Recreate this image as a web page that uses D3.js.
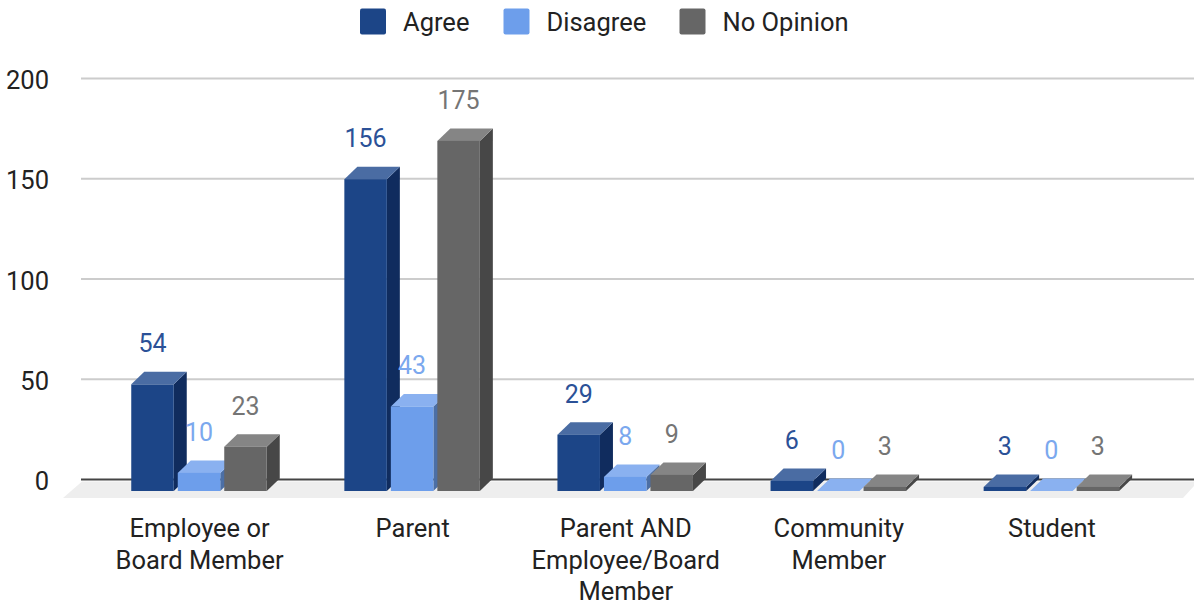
<!DOCTYPE html>
<html><head><meta charset="utf-8">
<script src="https://cdn.jsdelivr.net/npm/d3@7"></script>
<style>html,body{margin:0;padding:0;background:#fff}svg{display:block}text{font-family:Roboto,sans-serif}</style>
</head><body><div id="c"></div>
<script>
const categories = ["Employee or Board Member","Parent","Parent AND Employee/Board Member","Community Member","Student"];
const categoryLines = [["Employee or","Board Member"],["Parent"],["Parent AND","Employee/Board","Member"],["Community","Member"],["Student"]];
const seriesNames = ["Agree","Disagree","No Opinion"];
const agree = [54,156,29,6,3];
const disagree = [10,43,8,0,0];
const noOpinion = [23,175,9,3,3];
const seriesValues = [agree,disagree,noOpinion];
const tickValues = [0,50,100,150,200];
const frontColors = ["#1c4587","#6d9eeb","#666666"];
const topColors = ["#4a6ca3","#8ab1f0","#858585"];
const sideColors = ["#102c5e","#4c6fa5","#474747"];
const labelColors = ["#2b5197","#7ba8ee","#757575"];

const W=1194,H=605,depthX=13,depthY=12.5,FS=25.5;
const svg=d3.select("#c").append("svg").attr("width",W).attr("height",H);
const yAxisScale=d3.scaleLinear().domain([0,200]).range([479.5,78.5]);
const yBar=d3.scaleLinear().domain([0,200]).range([493,90.6]);
const yBase=491;
const x0=d3.scaleBand().domain(categories).range([93,1158.5]);
const x1=d3.scaleBand().domain(seriesNames).range([36.5,176]).paddingInner(0.086).paddingOuter(0.043);

// floor
svg.append("path").attr("fill","#eeeeee")
 .attr("d","M82,481.5L1198,481.5L1183,498L63,498Z");

// gridlines and tick labels
const axis=d3.axisLeft(yAxisScale).tickValues(tickValues).tickSize(0).tickPadding(0).tickFormat(d3.format("d"));
const ag=svg.append("g").attr("transform","translate(49,0)").call(axis);
ag.select(".domain").remove();
ag.selectAll("text").attr("font-size",FS).attr("fill","#222").attr("dy","0.4em");
const grid=svg.append("g");
grid.selectAll("line").data(tickValues).join("line")
 .attr("x1",81).attr("x2",W).attr("y1",d=>yAxisScale(d)).attr("y2",d=>yAxisScale(d))
 .attr("stroke",d=>d===0?"#444":"#cccccc").attr("stroke-width",2);

// bars
const bars=svg.append("g");
const labels=svg.append("g");
categories.forEach((cat,ci)=>{
  seriesNames.forEach((s,si)=>{
    const v=seriesValues[si][ci];
    const xl=x0(cat)+x1(s)-0.25, w=x1.bandwidth(), yt=v?Math.min(yBar(v),yBase):yBase, yb=yBase;
    const g=bars.append("g");
    g.append("path").attr("fill",sideColors[si])
      .attr("d",`M${xl+w},${yt}L${xl+w+depthX},${yt-depthY}L${xl+w+depthX},${yb-depthY}L${xl+w},${yb}Z`);
    g.append("path").attr("fill",topColors[si])
      .attr("d",`M${xl},${yt}L${xl+depthX},${yt-depthY}L${xl+w+depthX},${yt-depthY}L${xl+w},${yt}Z`);
    g.append("rect").attr("x",xl).attr("y",yt).attr("width",w).attr("height",yb-yt).attr("fill",frontColors[si]);
    labels.append("text").attr("x",xl+w/2).attr("y",yt-depthY-19.5)
      .attr("text-anchor","middle").attr("font-size",25).attr("fill",labelColors[si]).text(v);
  });
  const t=svg.append("text").attr("text-anchor","middle").attr("font-size",FS).attr("fill","#222");
  categoryLines[ci].forEach((ln,i)=>{
    t.append("tspan").attr("x",x0(cat)+x0.bandwidth()/2).attr("y",537+i*31.7).text(ln);
  });
});

// legend
const legendSquareX=[360,503.5,679.5], legendTextX=[403,546.5,722.5];
const lg=svg.append("g");
seriesNames.forEach((s,i)=>{
  lg.append("rect").attr("x",legendSquareX[i]).attr("y",8.5).attr("width",26).attr("height",26).attr("rx",2).attr("fill",frontColors[i]);
  lg.append("text").attr("x",legendTextX[i]).attr("y",30.5).attr("font-size",FS).attr("fill","#222").text(s);
});
</script></body></html>
